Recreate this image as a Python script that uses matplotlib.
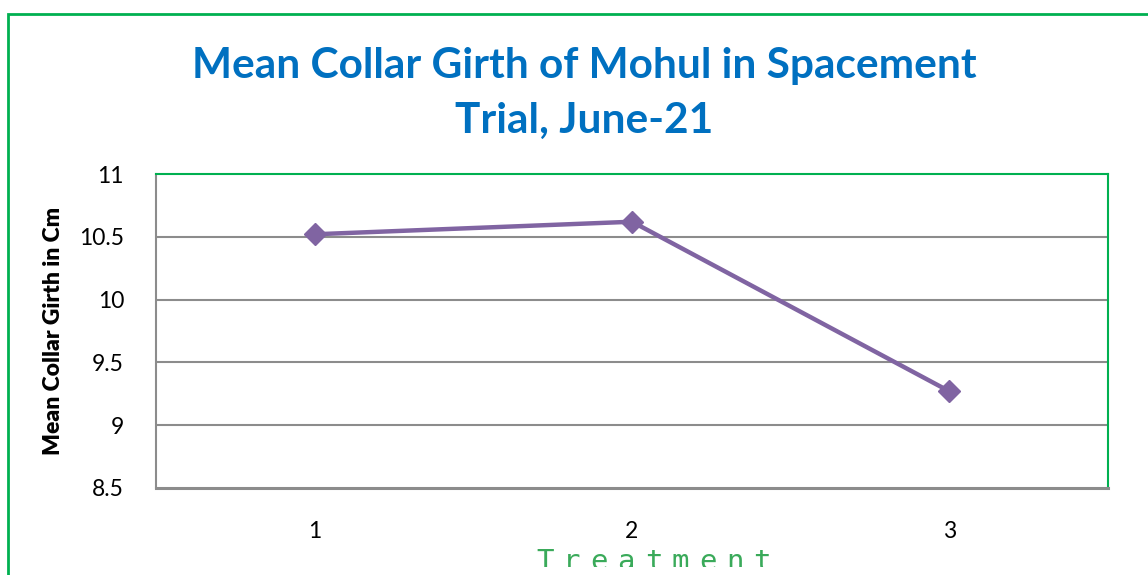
import matplotlib
matplotlib.use("Agg")
import matplotlib.pyplot as plt
from matplotlib.patches import Rectangle
from matplotlib.transforms import Bbox

# values
treatments = [1, 2, 3]
girth = [10.52, 10.62, 9.27]
ytick_vals = [8.5, 9, 9.5, 10, 10.5, 11]
ytick_labels = ["8.5", "9", "9.5", "10", "10.5", "11"]

plt.rcParams['font.family'] = ['Lato', 'DejaVu Sans']

W, H = 1148, 575
fig = plt.figure(figsize=(W / 100, H / 100), dpi=100)
fig.patch.set_facecolor("white")

# outer green chart frame (right/bottom edges run off the picture)
frame = Rectangle((8 / W, -0.2), 1.2, 1 - 14 / H + 0.2, transform=fig.transFigure,
                  fill=False, edgecolor="#00B050", linewidth=2, clip_on=False)
fig.patches.append(frame)

ax = fig.add_axes([156 / W, 1 - 488 / H, (1108 - 156) / W, (488 - 174) / H])
ax.plot(treatments, girth, color="#8064A2", linewidth=3.2, marker="D",
        markersize=11, zorder=3)

ax.set_xlim(0.5, 3.5)
ax.set_ylim(8.5, 11)
ax.set_yticks(ytick_vals)
ax.set_yticklabels(ytick_labels)
ax.set_xticks(treatments)
ax.set_xticklabels([str(t) for t in treatments])
ax.tick_params(axis="y", length=0, pad=23, labelsize=16.5)
ax.tick_params(axis="x", length=0, pad=24, labelsize=16.5)

for v in ytick_vals[1:-1]:
    ax.axhline(v, color="#8C8C8C", linewidth=1.5, zorder=1)

ax.spines["top"].set_color("#00B050")
ax.spines["right"].set_color("#00B050")
ax.spines["top"].set_linewidth(1.5)
ax.spines["right"].set_linewidth(1.5)
ax.spines["left"].set_color("#8C8C8C")
ax.spines["bottom"].set_color("#8C8C8C")
ax.spines["left"].set_linewidth(1.5)
ax.spines["bottom"].set_linewidth(2.2)

ax.set_ylabel("Mean Collar Girth in Cm", fontsize=16.5, fontweight="heavy", labelpad=11)

fig.text(584 / W, 1 - 66 / H, "Mean Collar Girth of Mohul in Spacement",
         ha="center", va="center", fontsize=30.5, fontweight="bold", color="#0070C0")
fig.text(584 / W, 1 - 121 / H, "Trial, June-21",
         ha="center", va="center", fontsize=30.5, fontweight="bold", color="#0070C0")

# x axis title, spaced out and cropped at its bottom like the original
clip = Bbox.from_extents(0, H - 567, W, H)
word = "Treatment"
for i, ch in enumerate(word):
    t = fig.text((545 + i * 27.1) / W, 1 - 548 / H, ch, ha="center", va="top",
                 fontsize=21, color="#3AAA5A", family="DejaVu Sans Mono")
    t.set_clip_box(clip)
    t.set_clip_on(True)

fig.savefig("out.png", dpi=100)
